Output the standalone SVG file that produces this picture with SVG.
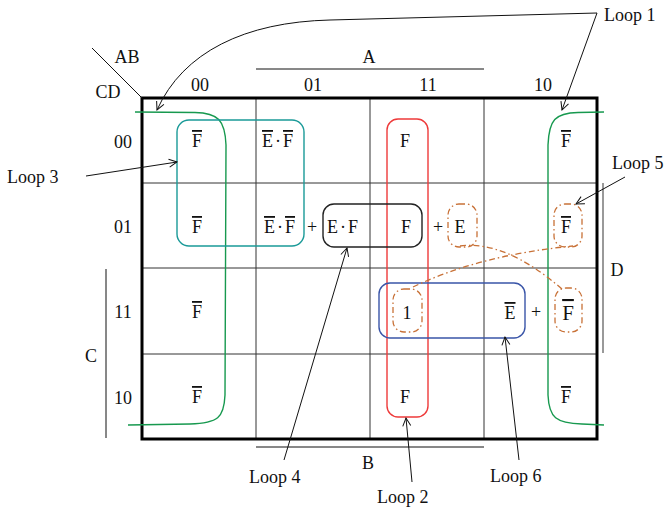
<svg xmlns="http://www.w3.org/2000/svg" width="665" height="509" viewBox="0 0 665 509">
<defs>
<style>
text{font-family:"Liberation Serif","Times New Roman",serif;font-size:18px;fill:#111}
.m{text-anchor:middle}
.ov{text-decoration:overline}
.grid{stroke:#333;stroke-width:1;fill:none}
.ax{stroke:#111;stroke-width:1;fill:none}
.lp{fill:none;stroke-width:1.4}
.dd{fill:none;stroke:#c87137;stroke-width:1.3;stroke-dasharray:6 3 1.5 3}
.ar{fill:none;stroke:#111;stroke-width:1;marker-end:url(#ah)}
</style>
<marker id="ah" markerUnits="userSpaceOnUse" markerWidth="12" markerHeight="12" refX="9" refY="5" orient="auto">
<path d="M1,1 L9,5 L1,9" fill="none" stroke="#111" stroke-width="1"/>
</marker>
</defs>
<rect width="665" height="509" fill="#fff"/>
<g id="map">
<line class="grid" x1="256" y1="98" x2="256" y2="439"/>
<line class="grid" x1="370" y1="98" x2="370" y2="439"/>
<line class="grid" x1="484" y1="98" x2="484" y2="439"/>
<line class="grid" x1="142" y1="183" x2="597" y2="183"/>
<line class="grid" x1="142" y1="268" x2="597" y2="268"/>
<line class="grid" x1="142" y1="354" x2="597" y2="354"/>
<rect x="142" y="98" width="455" height="341" fill="none" stroke="#000" stroke-width="3"/>
<line class="ax" x1="92" y1="48" x2="142" y2="98"/>
<text x="127" y="63" class="m">AB</text>
<text x="108" y="98" class="m">CD</text>
<text x="200" y="91" class="m">00</text>
<text x="313" y="91" class="m">01</text>
<text x="428" y="91" class="m">11</text>
<text x="543" y="91" class="m">10</text>
<text x="123" y="148" class="m">00</text>
<text x="123" y="233" class="m">01</text>
<text x="123" y="318" class="m">11</text>
<text x="123" y="404" class="m">10</text>
<line class="ax" x1="256" y1="69" x2="484" y2="69"/>
<text x="369" y="63" class="m">A</text>
<line class="ax" x1="256" y1="447" x2="484" y2="447"/>
<text x="368" y="469" class="m">B</text>
<line class="ax" x1="106" y1="269" x2="106" y2="438"/>
<text x="91" y="362" class="m">C</text>
<line x1="603" y1="183" x2="603" y2="353" stroke="#777" stroke-width="1.5"/>
<text x="617" y="276" class="m">D</text>
</g>
<g id="cells">
<text x="197" y="147" class="m ov">F</text>
<text x="262" y="147"><tspan class="ov">E</tspan><tspan dx="2">·</tspan><tspan dx="2" class="ov">F</tspan></text>
<text x="405" y="147" class="m">F</text>
<text x="566" y="147" class="m ov">F</text>
<text x="197" y="233" class="m ov">F</text>
<text x="264" y="233"><tspan class="ov">E</tspan><tspan dx="2">·</tspan><tspan dx="2" class="ov">F</tspan></text>
<text x="312" y="233" class="m">+</text>
<text x="327" y="233">E<tspan dx="2">·</tspan><tspan dx="2">F</tspan></text>
<text x="406" y="233" class="m">F</text>
<text x="438" y="233" class="m">+</text>
<text x="460" y="233" class="m">E</text>
<text x="566" y="233" class="m ov">F</text>
<text x="197" y="318" class="m ov">F</text>
<text x="407" y="319" class="m">1</text>
<text x="510" y="319" class="m ov">E</text>
<text x="536" y="318" class="m">+</text>
<text x="568" y="320" class="m ov" style="font-size:21px">F</text>
<text x="197" y="403" class="m ov">F</text>
<text x="405" y="403" class="m">F</text>
<text x="566" y="403" class="m ov">F</text>
</g>
<g id="loop1" stroke="#17994f">
<path class="lp" d="M135,112 L195,112.5 C218,113 225,120 226,145 L225,395 C224,418 218,423 190,424 L128,425"/>
<path class="lp" d="M604,112 L578,112.5 C555,113 549,120 548,145 L548,395 C549,418 556,423 582,424 L604,425"/>
</g>
<g id="loop2"><rect class="lp" x="387" y="119" width="41" height="298" rx="11" stroke="#ee3a3a"/></g>
<g id="loop3"><rect class="lp" x="177" y="120" width="127" height="126" rx="12" stroke="#1a9a98"/></g>
<g id="loop4"><rect class="lp" x="323" y="204" width="99" height="43" rx="11" stroke="#222"/></g>
<g id="loop6"><rect class="lp" x="379" y="283" width="146" height="55" rx="11" stroke="#3a55a8"/></g>
<g id="loop5">
<rect class="dd" x="448" y="204" width="29" height="43" rx="11"/>
<rect class="dd" x="554" y="204" width="28" height="43" rx="11"/>
<rect class="dd" x="393" y="289" width="29" height="43" rx="11"/>
<rect class="dd" x="555" y="288" width="27" height="44" rx="11"/>
<path class="dd" d="M460,246 Q505,240 562,289"/>
<path class="dd" d="M413,287 Q480,255 573,246"/>
</g>
<g id="labels">
<text x="604" y="21">Loop 1</text>
<text x="612" y="169">Loop 5</text>
<text x="7" y="183">Loop 3</text>
<text x="249" y="483">Loop 4</text>
<text x="377" y="503">Loop 2</text>
<text x="490" y="482">Loop 6</text>
</g>
<g id="connectors">
<path class="ar" d="M597,13 L330,20 C245,22 183,52 157,110"/>
<path class="ar" d="M597,13 L562,110"/>
<path class="ar" d="M86,176 L177,162"/>
<path class="ar" d="M284,460 L347,248"/>
<path class="ar" d="M412,482 L406,418"/>
<path class="ar" d="M519,460 L505,337"/>
<path class="ar" d="M625,177 L576,204"/>
</g>
</svg>
